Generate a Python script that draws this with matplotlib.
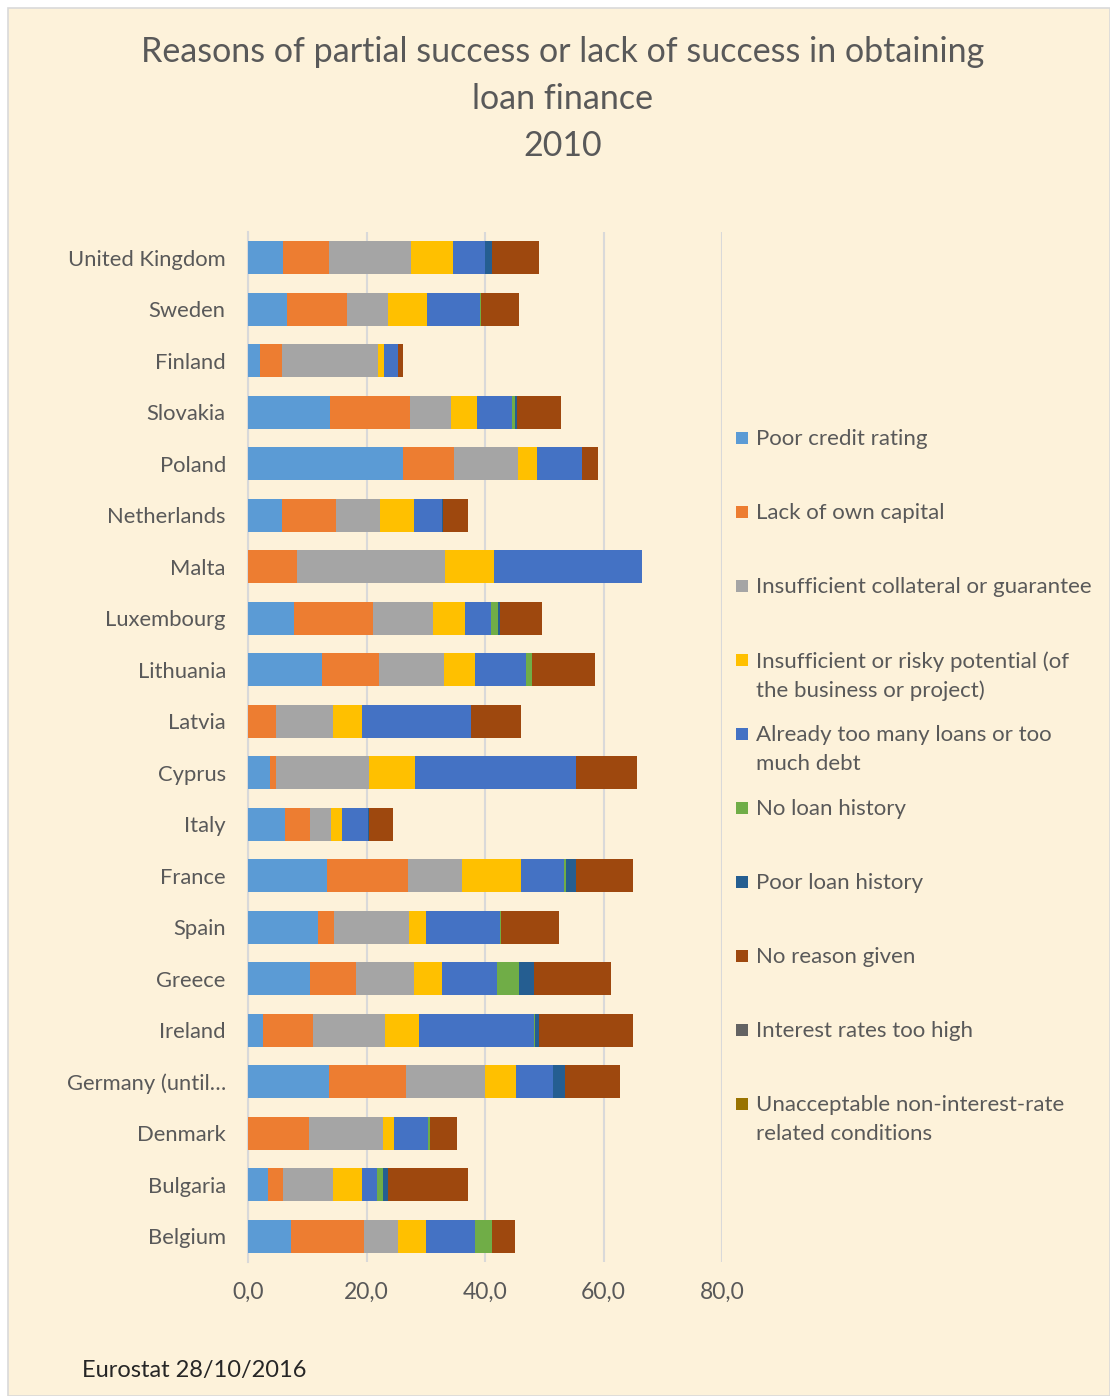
import matplotlib
matplotlib.use("Agg")
import matplotlib.pyplot as plt
from matplotlib.patches import Rectangle
import numpy as np

plt.rcParams['font.family'] = ['Lato', 'DejaVu Sans']

countries = ["United Kingdom", "Sweden", "Finland", "Slovakia", "Poland", "Netherlands",
             "Malta", "Luxembourg", "Lithuania", "Latvia", "Cyprus", "Italy", "France",
             "Spain", "Greece", "Ireland", "Germany (until\u2026", "Denmark", "Bulgaria", "Belgium"]

series_names = ["Poor credit rating",
                "Lack of own capital",
                "Insufficient collateral or guarantee",
                "Insufficient or risky potential (of\nthe business or project)",
                "Already too many loans or too\nmuch debt",
                "No loan history",
                "Poor loan history",
                "No reason given",
                "Interest rates too high",
                "Unacceptable non-interest-rate\nrelated conditions"]

poor_credit = [5.9, 6.6, 2.0, 13.9, 26.1, 5.7, 0.0, 7.75, 12.5, 0.0, 3.7, 6.2, 13.3, 11.8, 10.4, 2.5, 13.6, 0.0, 3.3, 7.25]
lack_capital = [7.75, 10.1, 3.7, 13.4, 8.6, 9.2, 8.3, 13.3, 9.6, 4.8, 1.1, 4.3, 13.65, 2.75, 7.75, 8.5, 13.0, 10.3, 2.6, 12.4]
collateral = [13.8, 6.9, 16.3, 6.9, 10.8, 7.3, 25.0, 10.2, 11.0, 9.6, 15.6, 3.5, 9.2, 12.7, 9.9, 12.1, 13.4, 12.5, 8.5, 5.7]
risky_potential = [7.2, 6.6, 1.0, 4.5, 3.3, 5.8, 8.3, 5.3, 5.2, 4.9, 7.8, 1.8, 9.9, 2.8, 4.7, 5.8, 5.2, 1.8, 4.8, 4.7]
too_many_loans = [5.3, 8.9, 2.3, 5.9, 7.6, 4.7, 24.9, 4.5, 8.7, 18.4, 27.1, 4.5, 7.3, 12.4, 9.3, 19.3, 6.2, 5.7, 2.6, 8.3]
no_loan_history = [0.0, 0.3, 0.0, 0.45, 0.0, 0.0, 0.0, 1.2, 1.0, 0.0, 0.0, 0.0, 0.35, 0.2, 3.65, 0.3, 0.0, 0.45, 1.0, 2.9]
poor_loan_history = [1.2, 0.0, 0.0, 0.35, 0.0, 0.2, 0.0, 0.3, 0.0, 0.0, 0.0, 0.2, 1.6, 0.0, 2.6, 0.6, 2.1, 0.0, 0.9, 0.0]
no_reason = [8.0, 6.4, 0.8, 7.4, 2.75, 4.3, 0.0, 7.0, 10.6, 8.4, 10.3, 4.0, 9.7, 9.8, 13.0, 15.9, 9.3, 4.55, 13.5, 3.8]
interest_high = [0.0] * 20
unacceptable = [0.0] * 20

xticks = [0, 20, 40, 60, 80]
xtick_labels = ["0,0", "20,0", "40,0", "60,0", "80,0"]

colors = ["#5B9BD5", "#ED7D31", "#A5A5A5", "#FFC000", "#4472C4",
          "#70AD47", "#255E91", "#9E480E", "#636363", "#997300"]

data = [poor_credit, lack_capital, collateral, risky_potential, too_many_loans,
        no_loan_history, poor_loan_history, no_reason, interest_high, unacceptable]

W, H = 1110, 1396
fig = plt.figure(figsize=(W / 100, H / 100), dpi=100, facecolor="white")

# parchment background panel
bg = Rectangle((8 / W, 0), 1 - 8 / W, 1 - 8 / H, transform=fig.transFigure,
               facecolor="#FDF2DA", edgecolor="#D9D9D9", linewidth=1.2, zorder=-10)
fig.patches.append(bg)

ax = fig.add_axes([248 / W, 1 - 1262 / H, 474 / W, 1030 / H])
ax.set_facecolor("none")
ax.set_zorder(1)

y = np.arange(len(countries))
left = np.zeros(len(countries))
for vals, c, name in zip(data, colors, series_names):
    v = np.array(vals)
    ax.barh(y, v, left=left, height=0.64, color=c, label=name, linewidth=0, zorder=3)
    left += v

ax.set_xlim(0, 80)
ax.set_ylim(len(countries) - 0.5, -0.5)
ax.set_yticks(y)
ax.set_yticklabels(countries)
ax.set_xticks(xticks)
ax.set_xticklabels(xtick_labels)
ax.tick_params(axis="both", length=0, colors="#595959", labelsize=15.8)
ax.tick_params(axis="x", labelsize=16.5)
ax.tick_params(axis="y", pad=16)
ax.tick_params(axis="x", pad=14)
ax.grid(axis="x", color="#D9D9D9", linewidth=1.5, zorder=0)
for s in ["top", "right", "bottom"]:
    ax.spines[s].set_visible(False)
ax.spines["left"].set_color("#D9D9D9")
ax.spines["left"].set_linewidth(1.5)

# title
fig.text(563 / W, 1 - 36 / H,
         "Reasons of partial success or lack of success in obtaining\nloan finance\n2010",
         ha="center", va="top", fontsize=24.5, color="#595959", linespacing=1.57)

# legend (manual layout)
leg_y = [438, 512, 586, 660, 734, 808, 882, 956, 1030, 1104]
for name, c, yy in zip(series_names, colors, leg_y):
    fig.patches.append(Rectangle((736 / W, 1 - (yy + 6) / H), 12 / W, 12 / H,
                                 transform=fig.transFigure, facecolor=c, edgecolor="none",
                                 zorder=2))
    fig.text(756 / W, 1 - (yy - 9) / H, name, ha="left", va="top", fontsize=16,
             color="#595959", linespacing=1.55)

fig.text(82 / W, 1 - 1370 / H, "Eurostat 28/10/2016", ha="left", va="center",
         fontsize=17, color="#262626")

fig.savefig("out.png", dpi=100, facecolor=fig.get_facecolor())
